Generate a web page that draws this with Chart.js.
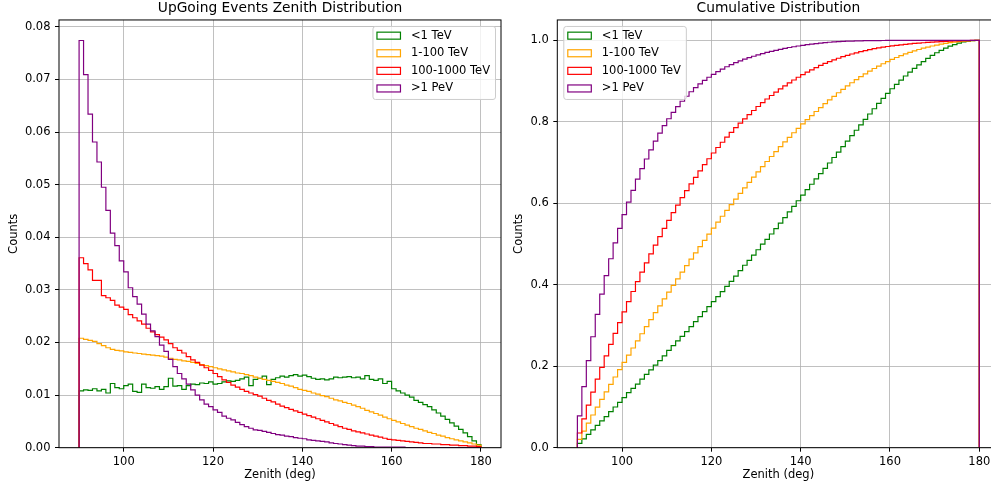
<!DOCTYPE html>
<html lang="en">
<head>
<meta charset="utf-8" />
<title>UpGoing Events Zenith Distribution</title>
<style>
  * { margin: 0; padding: 0; }
  body { width: 991px; height: 490px; overflow: hidden; background: #fff; position: relative; }
  canvas { position: absolute; top: 0; }
  #histChart { left: 0; }
  #cumChart { left: 500px; }
</style>
</head>
<body>
<canvas id="histChart" width="520" height="490"></canvas>
<canvas id="cumChart" width="520" height="490"></canvas>

<script src="https://cdn.jsdelivr.net/npm/chart.js"></script>
<script>
// bin edges: 1 deg bins from 90 to 180
const binStart = 90;
const binCount = 90;

const seriesLabels = ["<1 TeV", "1-100 TeV", "100-1000 TeV", ">1 PeV"];
const seriesColors = ["green", "orange", "red", "purple"];

// normalised counts per bin (density)
const lowTeV = [
  0.0108, 0.0110, 0.0109, 0.0112, 0.0108, 0.0111, 0.0104, 0.0122, 0.0114, 0.0112,
  0.0118, 0.0121, 0.0107, 0.0105, 0.0121, 0.0114, 0.0113, 0.0116, 0.0111, 0.0116,
  0.0132, 0.0117, 0.0118, 0.0111, 0.0118, 0.0121, 0.0120, 0.0123, 0.0122, 0.0125,
  0.0121, 0.0122, 0.0125, 0.0127, 0.0126, 0.0128, 0.0131, 0.0134, 0.0118, 0.0130,
  0.0132, 0.0136, 0.0120, 0.0130, 0.0133, 0.0136, 0.0134, 0.0137, 0.0139, 0.0136,
  0.0138, 0.0135, 0.0132, 0.0130, 0.0131, 0.0129, 0.0131, 0.0134, 0.0133, 0.0134,
  0.0135, 0.0133, 0.0134, 0.0131, 0.0137, 0.0130, 0.0128, 0.0131, 0.0122, 0.0126,
  0.0112, 0.0108, 0.0104, 0.0100, 0.0096, 0.0090, 0.0086, 0.0082, 0.0078, 0.0072,
  0.0066, 0.0060, 0.0054, 0.0047, 0.0041, 0.0035, 0.0028, 0.0021, 0.0013, 0.0006
];
const midTeV = [
  0.0208, 0.0206, 0.0204, 0.0202, 0.0198, 0.0194, 0.0190, 0.0187, 0.0185, 0.0184,
  0.0182, 0.0181, 0.0180, 0.0179, 0.0178, 0.0177, 0.0176, 0.0175, 0.0174, 0.0172,
  0.0170, 0.0168, 0.0167, 0.0165, 0.0164, 0.0162, 0.0160, 0.0158, 0.0156, 0.0154,
  0.0152, 0.0150, 0.0148, 0.0146, 0.0144, 0.0142, 0.0141, 0.0139, 0.0137, 0.0134,
  0.0132, 0.0130, 0.0128, 0.0126, 0.0124, 0.0122, 0.0119, 0.0117, 0.0114, 0.0111,
  0.0109, 0.0107, 0.0104, 0.0102, 0.0099, 0.0097, 0.0094, 0.0091, 0.0089, 0.0086,
  0.0084, 0.0081, 0.0078, 0.0075, 0.0071, 0.0068, 0.0065, 0.0062, 0.0058, 0.0055,
  0.0052, 0.0049, 0.0046, 0.0043, 0.0040, 0.0037, 0.0035, 0.0032, 0.0029, 0.0027,
  0.0024, 0.0022, 0.0019, 0.0017, 0.0015, 0.0013, 0.0011, 0.0009, 0.0007, 0.0005
];
const highTeV = [
  0.0361, 0.0350, 0.0338, 0.0318, 0.0318, 0.0289, 0.0285, 0.0280, 0.0271, 0.0267,
  0.0263, 0.0253, 0.0247, 0.0241, 0.0235, 0.0227, 0.0220, 0.0215, 0.0210, 0.0205,
  0.0198, 0.0190, 0.0185, 0.0180, 0.0173, 0.0167, 0.0162, 0.0157, 0.0152, 0.0147,
  0.0141, 0.0135, 0.0129, 0.0124, 0.0119, 0.0115, 0.0111, 0.0107, 0.0104, 0.0101,
  0.0098, 0.0094, 0.0090, 0.0087, 0.0083, 0.0079, 0.0076, 0.0073, 0.0070, 0.0067,
  0.0064, 0.0061, 0.0058, 0.0055, 0.0052, 0.0049, 0.0046, 0.0043, 0.0040, 0.0037,
  0.0035, 0.0032, 0.0030, 0.0028, 0.0026, 0.0024, 0.0022, 0.0020, 0.0018, 0.0016,
  0.0015, 0.0014, 0.0013, 0.0012, 0.0011, 0.0010, 0.0009, 0.0008, 0.0008, 0.0007,
  0.0007, 0.0006, 0.0006, 0.0005, 0.0005, 0.0004, 0.0004, 0.0003, 0.0003, 0.0002
];
const overPeV = [
  0.0774, 0.0709, 0.0634, 0.0581, 0.0543, 0.0495, 0.0451, 0.0408, 0.0384, 0.0355,
  0.0334, 0.0304, 0.0287, 0.0273, 0.0254, 0.0235, 0.0222, 0.0211, 0.0195, 0.0183,
  0.0168, 0.0154, 0.0141, 0.0131, 0.0121, 0.0110, 0.0100, 0.0091, 0.0083, 0.0078,
  0.0072, 0.0067, 0.0060, 0.0056, 0.0053, 0.0048, 0.0044, 0.0040, 0.0037, 0.0034,
  0.0033, 0.0031, 0.0029, 0.0027, 0.0025, 0.0024, 0.0022, 0.0021, 0.0019, 0.0018,
  0.0017, 0.0015, 0.0014, 0.0013, 0.0012, 0.0011, 0.0009, 0.0008, 0.0007, 0.0006,
  0.0005, 0.0004, 0.0003, 0.0003, 0.0002, 0.0002, 0.0001, 0.0001, 0.0001, 0.0001,
  0.0001, 0.0001, 0.0001, 0, 0, 0, 0, 0, 0, 0,
  0, 0, 0, 0, 0, 0, 0, 0, 0, 0
];

const xTicks = [100, 120, 140, 160, 180];
const histTicks = [0, 0.01, 0.02, 0.03, 0.04, 0.05, 0.06, 0.07, 0.08];
const cumTicks = [0, 0.2, 0.4, 0.6, 0.8, 1.0];

const allSeries = [lowTeV, midTeV, highTeV, overPeV];

const fontFamily = '"DejaVu Sans", sans-serif';
const tickSize = 11.5;

// step outline like matplotlib histtype="step"
function stepPoints(values) {
  const pts = [{ x: binStart, y: 0 }];
  values.forEach((v, i) => pts.push({ x: binStart + i, y: v }));
  const last = binStart + values.length;
  pts.push({ x: last, y: values[values.length - 1] });
  pts.push({ x: last, y: 0 });
  return pts;
}

// cumulative density (what cumulative=True, density=True gives)
function cumulative(values) {
  const total = values.reduce((a, b) => a + b, 0);
  let run = 0;
  return values.map(v => (run += v) / total);
}

function makeDatasets(transform) {
  return allSeries.map((vals, i) => ({
    label: seriesLabels[i],
    data: stepPoints(transform(vals)),
    borderColor: seriesColors[i],
    borderWidth: 1.2,
    borderJoinStyle: "miter",
    pointRadius: 0,
    fill: false,
    stepped: true,
    order: allSeries.length - i
  }));
}

// legend box drawn like matplotlib's
const boxLegend = {
  id: "boxLegend",
  afterDraw(chart, args, opts) {
    const { ctx, chartArea } = chart;
    const items = chart.data.datasets;
    ctx.save();
    ctx.font = tickSize + "px " + fontFamily;
    const textW = Math.max(...items.map(d => ctx.measureText(d.label).width));
    const w = 38.5 + textW + 5;
    const h = 73;
    const x = opts.corner === "right" ? chartArea.right - 6 - w : chartArea.left + 6;
    const y = chartArea.top + 6;
    ctx.beginPath();
    ctx.roundRect(x + 0.5, y + 0.5, w, h, 2.5);
    ctx.fillStyle = "rgba(255,255,255,0.8)";
    ctx.fill();
    ctx.strokeStyle = "#cccccc";
    ctx.lineWidth = 1;
    ctx.stroke();
    items.forEach((d, i) => {
      const cy = y + 9.7 + i * 17.6;
      ctx.strokeStyle = d.borderColor;
      ctx.lineWidth = 1.2;
      ctx.strokeRect(x + 4.5, cy - 3.5, 23.5, 7);
      ctx.fillStyle = "#000";
      ctx.textBaseline = "middle";
      ctx.textAlign = "left";
      ctx.fillText(d.label, x + 38.5, cy);
    });
    ctx.restore();
  }
};

// full box around the axes
const frame = {
  id: "frame",
  afterDatasetsDraw(chart) {
    const { ctx, chartArea: a } = chart;
    ctx.save();
    ctx.strokeStyle = "#000";
    ctx.lineWidth = 1;
    ctx.strokeRect(a.left, a.top, a.right - a.left, a.bottom - a.top);
    ctx.restore();
  }
};

function makeConfig(opt) {
  return {
    type: "line",
    data: { datasets: makeDatasets(opt.transform) },
    plugins: [frame, boxLegend],
    options: {
      responsive: false,
      animation: false,
      devicePixelRatio: 1,
      layout: { padding: { top: 0, left: 0, right: opt.padRight, bottom: 0 } },
      plugins: {
        legend: { display: false },
        tooltip: { enabled: false },
        boxLegend: { corner: opt.legendCorner },
        title: {
          display: true,
          text: opt.title,
          fullSize: false,
          color: "#000",
          font: { family: fontFamily, size: 13.8, weight: "normal" },
          padding: { top: 0, bottom: 3.4 }
        }
      },
      scales: {
        x: {
          type: "linear",
          min: 85.5,
          max: 184.5,
          afterBuildTicks: s => { s.ticks = xTicks.map(v => ({ value: v })); },
          afterFit: s => { s.height = 42.3; },
          ticks: {
            color: "#000",
            font: { family: fontFamily, size: tickSize },
            padding: 3,
            maxRotation: 0,
            callback: v => String(v)
          },
          grid: { color: "#b0b0b0", lineWidth: 0.8, tickColor: "#000", tickLength: 4, tickWidth: 1 },
          border: { display: false },
          title: {
            display: true,
            text: "Zenith (deg)",
            color: "#000",
            font: { family: fontFamily, size: tickSize },
            padding: { top: 0, bottom: 8 }
          }
        },
        y: {
          min: 0,
          max: opt.yMax,
          afterBuildTicks: s => { s.ticks = opt.yTicks.map(v => ({ value: v })); },
          afterFit: s => { s.width = opt.yWidth; },
          ticks: {
            color: "#000",
            font: { family: fontFamily, size: tickSize },
            padding: 4.5,
            callback: v => v.toFixed(opt.decimals)
          },
          grid: { color: "#b0b0b0", lineWidth: 0.8, tickColor: "#000", tickLength: 4, tickWidth: 1 },
          border: { display: false },
          title: {
            display: true,
            text: "Counts",
            color: "#000",
            font: { family: fontFamily, size: tickSize },
            padding: { top: opt.yTitlePad, bottom: 0 }
          }
        }
      }
    }
  };
}

const histChart = new Chart(document.getElementById("histChart"), makeConfig({
  title: "UpGoing Events Zenith Distribution",
  transform: v => v,
  yMax: 0.0813,
  yTicks: histTicks,
  decimals: 2,
  yWidth: 59,
  yTitlePad: 7,
  padRight: 19,
  legendCorner: "right"
}));

const cumChart = new Chart(document.getElementById("cumChart"), makeConfig({
  title: "Cumulative Distribution",
  transform: cumulative,
  yMax: 1.05,
  yTicks: cumTicks,
  decimals: 1,
  yWidth: 57.3,
  yTitlePad: 12,
  padRight: 20.6,
  legendCorner: "left"
}));
</script>
</body>
</html>
